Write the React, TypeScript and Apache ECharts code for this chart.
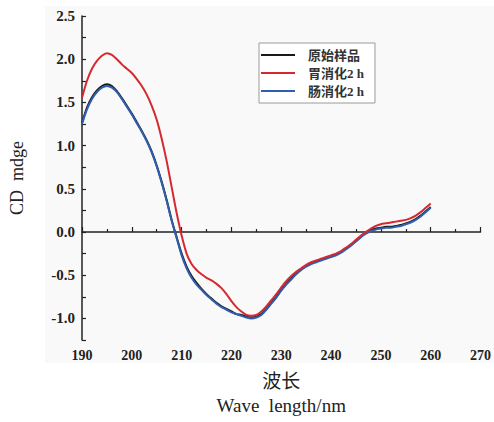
import React, { useEffect, useRef } from "react";
import * as echarts from "echarts";

const wavelengths = [
  190, 191, 192, 193, 194, 195, 196, 197, 198, 199,
  200, 201, 202, 203, 204, 205, 206, 207, 208, 209,
  210, 211, 212, 213, 214, 215, 216, 217, 218, 219,
  220, 221, 222, 223, 224, 225, 226, 227, 228, 229,
  230, 231, 232, 233, 234, 235, 236, 237, 238, 239,
  240, 241, 242, 243, 244, 245, 246, 247, 248, 249,
  250, 251, 252, 253, 254, 255, 256, 257, 258, 259, 260,
];

const original = [
  1.26, 1.44, 1.56, 1.64, 1.69, 1.71, 1.69, 1.63, 1.55, 1.46,
  1.37, 1.27, 1.17, 1.06, 0.93, 0.77, 0.58, 0.37, 0.14, -0.06,
  -0.25, -0.40, -0.51, -0.59, -0.66, -0.72, -0.77, -0.82, -0.86, -0.89,
  -0.92, -0.95, -0.96, -0.98, -0.99, -0.98, -0.95, -0.89, -0.82, -0.75,
  -0.67, -0.60, -0.54, -0.48, -0.43, -0.39, -0.36, -0.34, -0.32, -0.30,
  -0.28, -0.26, -0.23, -0.19, -0.15, -0.10, -0.05, -0.01, 0.02, 0.04,
  0.05, 0.06, 0.06, 0.07, 0.08, 0.10, 0.12, 0.15, 0.19, 0.24, 0.29,
];

const gastric = [
  1.55, 1.75, 1.89, 1.98, 2.04, 2.07, 2.05, 2.00, 1.94, 1.89,
  1.84, 1.77, 1.69, 1.59, 1.46, 1.30, 1.08, 0.82, 0.52, 0.22,
  -0.04, -0.25, -0.37, -0.44, -0.49, -0.53, -0.56, -0.60, -0.65, -0.72,
  -0.80, -0.87, -0.92, -0.96, -0.97, -0.96, -0.92, -0.86, -0.79, -0.72,
  -0.64, -0.57, -0.51, -0.46, -0.42, -0.38, -0.35, -0.33, -0.31, -0.29,
  -0.27, -0.25, -0.22, -0.18, -0.14, -0.09, -0.04, 0.00, 0.04, 0.07,
  0.09, 0.10, 0.11, 0.12, 0.13, 0.14, 0.16, 0.19, 0.23, 0.28, 0.33,
];

const intestinal = [
  1.25, 1.42, 1.54, 1.62, 1.67, 1.69, 1.67, 1.62, 1.54, 1.45,
  1.36, 1.26, 1.16, 1.05, 0.92, 0.76, 0.57, 0.36, 0.13, -0.07,
  -0.27, -0.42, -0.53, -0.61, -0.67, -0.73, -0.78, -0.83, -0.87, -0.90,
  -0.93, -0.95, -0.97, -0.99, -1.00, -0.99, -0.96, -0.90, -0.83, -0.76,
  -0.68, -0.61, -0.55, -0.49, -0.44, -0.40, -0.37, -0.35, -0.33, -0.31,
  -0.29, -0.27, -0.24, -0.20, -0.16, -0.11, -0.06, -0.02, 0.01, 0.03,
  0.04, 0.05, 0.05, 0.06, 0.07, 0.09, 0.11, 0.14, 0.18, 0.23, 0.28,
];

const seriesNames = ["原始样品", "胃消化2 h", "肠消化2 h"];
const seriesColors = ["#1a1a1a", "#d42a2f", "#2f5fae"];

const serif = "'Liberation Serif', 'Times New Roman', 'Noto Sans CJK SC', serif";

export default function App() {
  const ref = useRef<HTMLDivElement>(null);

  useEffect(() => {
    if (!ref.current) return;
    const chart = echarts.init(ref.current, undefined, { renderer: "svg" });
    const toPairs = (vals: number[]) => wavelengths.map((w, i) => [w, vals[i]]);
    const seriesData = [original, gastric, intestinal];
    const drawOrder = [0, 2, 1];

    chart.setOption({
      animation: false,
      backgroundColor: "#ffffff",
      graphic: [
        {
          type: "rect",
          z: -10,
          shape: { x: 45, y: 6, width: 449, height: 357 },
          style: { fill: "#f9f9f9" },
          silent: true,
        },
      ],
      grid: { left: 82, right: 12, top: 16, bottom: 81 },
      legend: {
        orient: "vertical",
        left: 259,
        top: 43,
        padding: [5, 11, 5, 2],
        backgroundColor: "#ffffff",
        borderColor: "#9a9a9a",
        borderWidth: 1,
        borderRadius: 0,
        icon: "rect",
        itemWidth: 34,
        itemHeight: 2,
        itemGap: 4,
        data: seriesNames,
        textStyle: {
          fontFamily: serif,
          fontSize: 13,
          fontWeight: "bold",
          color: "#333333",
          lineHeight: 14,
          padding: [0, 0, 0, 8],
        },
      },
      xAxis: {
        type: "value",
        min: 190,
        max: 270,
        interval: 10,
        name: "波长\nWave  length/nm",
        nameLocation: "middle",
        nameGap: 29,
        nameTextStyle: {
          fontFamily: serif,
          fontSize: 19,
          color: "#222222",
          lineHeight: 24,
          verticalAlign: "top",
        },
        axisLine: { show: true, lineStyle: { color: "#222222", width: 1.5 } },
        axisTick: { show: true, inside: true, length: 5, lineStyle: { color: "#222222", width: 1.2 } },
        minorTick: { show: true, splitNumber: 2, length: 3, lineStyle: { color: "#222222", width: 1.2 } },
        axisLabel: {
          margin: 8,
          fontFamily: serif,
          fontSize: 14,
          fontWeight: "bold",
          color: "#222222",
        },
        splitLine: { show: false },
      },
      yAxis: {
        type: "value",
        min: -1.25,
        max: 2.5,
        interval: 0.25,
        name: "CD  mdge",
        nameLocation: "middle",
        nameGap: 56,
        nameRotate: 90,
        nameTextStyle: { fontFamily: serif, fontSize: 18, color: "#222222" },
        axisLine: { show: true, lineStyle: { color: "#222222", width: 1.5 } },
        axisTick: { show: true, inside: true, length: 4, lineStyle: { color: "#222222", width: 1.2 } },
        axisLabel: {
          margin: 7,
          fontFamily: serif,
          fontSize: 15,
          fontWeight: "bold",
          color: "#222222",
          formatter: (v: number) => {
            const d = Math.round(v * 100);
            if (d === -125) return "";
            return d % 50 === 0 ? v.toFixed(1) : "";
          },
        },
        splitLine: { show: false },
      },
      series: drawOrder.map((idx) => ({
        name: seriesNames[idx],
        type: "line",
        data: toPairs(seriesData[idx]),
        showSymbol: false,
        smooth: 0.3,
        color: seriesColors[idx],
        lineStyle: { width: 2, color: seriesColors[idx] },
        z: idx === 1 ? 4 : idx === 2 ? 3 : 2,
      })),
    });

    return () => chart.dispose();
  }, []);

  return (
    <div
      ref={ref}
      style={{ position: "absolute", left: 0, top: 0, width: 494, height: 422 }}
    />
  );
}
